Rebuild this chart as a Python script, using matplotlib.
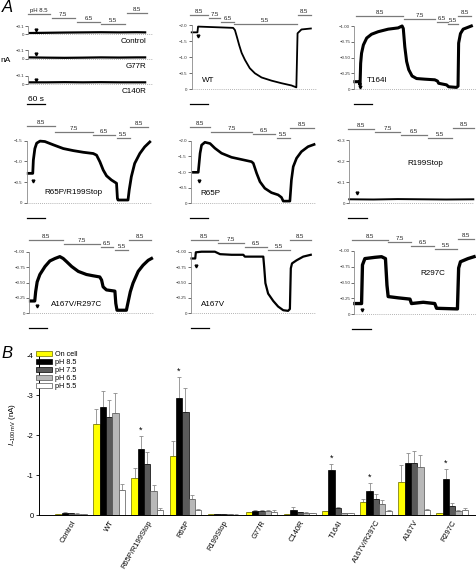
import matplotlib

matplotlib.use("Agg")
import matplotlib.pyplot as plt
import numpy as np

plt.rcParams["font.family"] = ["Liberation Sans", "DejaVu Sans"]
plt.rcParams["mathtext.fontset"] = "custom"
plt.rcParams["mathtext.it"] = "Liberation Sans:italic"
plt.rcParams["mathtext.rm"] = "Liberation Sans"

W, H = 477, 570

# ---------------- panel A: whole-cell currents (time s, current nA) ----------------
ph_steps = ["8.5", "7.5", "6.5", "5.5", "8.5"]

mini_t = [0, 60, 120, 180, 240, 300, 360, 390]
ctrl_i = [-0.012, -0.015, -0.018, -0.02, -0.022, -0.02, -0.022, -0.02]
g77r_i = [-0.015, -0.012, -0.01, -0.012, -0.015, -0.013, -0.015, -0.015]
c140r_i = [-0.02, -0.02, -0.022, -0.02, -0.022, -0.02, -0.02, -0.02]
mini_ph = [(0, 72), (77, 154), (160, 237), (242, 319), (325, 391)]

wt_t = [0, 19, 21, 137, 143, 150, 157, 165, 176, 192, 209, 231, 264, 297, 330, 346, 350, 363,
        394]
wt_i = [-1.78, -1.78, -1.96, -1.92, -1.85, -1.62, -1.38, -1.14, -0.92, -0.66, -0.5, -0.37,
        -0.27, -0.19, -0.12, -0.06, -1.75, -1.87, -1.9]
wt_ph = [(-5, 55), (57, 94), (96, 140), (140, 347), (350, 394)]

t164i_t = [2, 16, 19, 21, 24, 30, 41, 57, 79, 112, 145, 158, 162, 167, 173, 180, 191, 206,
           233, 266, 275, 279, 305, 312, 338, 343, 345, 351, 360, 387]
t164i_i = [-0.12, -0.12, -0.07, -0.41, -0.57, -0.7, -0.81, -0.87, -0.91, -0.95, -0.97, -1.0,
           -0.96, -0.67, -0.44, -0.31, -0.21, -0.17, -0.16, -0.15, -0.13, -0.095, -0.07,
           -0.04, -0.03, -0.05, -0.73, -0.88, -0.95, -1.0]
t164i_ph = [(4, 162), (165, 268), (272, 310), (310, 343), (343, 387)]

r65r199_t = [5, 20, 22, 27, 33, 44, 60, 88, 121, 154, 187, 220, 231, 242, 253, 264, 280, 297,
             300, 302, 335, 339, 346, 357, 374, 390, 407]
r65r199_i = [-0.71, -0.71, -1.03, -1.31, -1.44, -1.49, -1.48, -1.4, -1.31, -1.26, -1.22,
             -1.19, -1.15, -0.99, -0.79, -0.65, -0.55, -0.47, -0.1, -0.065, -0.065, -0.31,
             -0.63, -0.95, -1.19, -1.35, -1.47]
r65r199_ph = [(2, 93), (93, 220), (220, 291), (297, 341), (343, 401)]

r65p_t = [8, 24, 30, 35, 46, 63, 79, 101, 134, 167, 200, 206, 217, 228, 244, 266, 288, 299,
          305, 327, 332, 338, 349, 365, 387, 407]
r65p_i = [-0.99, -0.99, -1.6, -1.86, -1.95, -1.91, -1.76, -1.6, -1.47, -1.4, -1.33, -1.28,
          -0.96, -0.69, -0.48, -0.34, -0.27, -0.19, -0.07, -0.07, -0.74, -1.17, -1.44,
          -1.65, -1.81, -1.88]
r65p_ph = [(-3, 63), (66, 202), (206, 277), (283, 327), (327, 407)]

r199_t = [0, 80, 160, 240, 320, 410]
r199_i = [-0.019, -0.018, -0.02, -0.019, -0.018, -0.019]
r199_ph = [(-3, 82), (85, 167), (170, 258), (261, 341), (343, 412)]

a167r297_t = [4, 18, 21, 26, 35, 52, 68, 85, 101, 112, 123, 140, 162, 189, 210, 233, 239, 244,
              255, 283, 286, 290, 321, 327, 334, 343, 360, 376, 393, 404]
a167r297_i = [-0.2, -0.2, -0.35, -0.51, -0.63, -0.76, -0.85, -0.89, -0.92, -0.89, -0.84, -0.76,
              -0.68, -0.63, -0.61, -0.59, -0.54, -0.43, -0.38, -0.36, -0.16, -0.05, -0.05,
              -0.19, -0.35, -0.49, -0.68, -0.78, -0.86, -0.89]
a167r297_ph = [(0, 112), (114, 233), (236, 277), (283, 327), (329, 404)]

a167v_t = [2, 14, 16, 35, 79, 96, 134, 173, 178, 239, 242, 246, 255, 272, 288, 305, 321, 327,
           330, 334, 349, 371, 396]
a167v_i = [-0.89, -0.89, -0.99, -1.0, -1.0, -0.96, -0.95, -0.95, -0.92, -0.92, -0.75, -0.49,
           -0.32, -0.2, -0.11, -0.05, -0.04, -0.07, -0.73, -0.81, -0.86, -0.92, -0.95]
a167v_ph = [(0, 88), (90, 176), (178, 250), (253, 327), (327, 396)]

r297c_t = [2, 24, 27, 35, 68, 90, 103, 108, 112, 145, 184, 189, 228, 266, 272, 341, 345, 351,
           376, 396]
r297c_i = [-0.17, -0.17, -0.78, -0.88, -0.9, -0.91, -0.88, -0.46, -0.28, -0.26, -0.24, -0.17,
           -0.19, -0.17, -0.095, -0.085, -0.73, -0.83, -0.88, -0.91]
r297c_ph = [(-6, 110), (112, 187), (189, 264), (266, 341), (343, 396)]

# ---------------- panel B: mean current at -100 mV (nA) ----------------
groups = ["Control", "WT", "R65P/R199Stop", "R65P", "R199Stop", "G77R", "C140R", "T164I",
          "A167V/R297C", "A167V", "R297C"]
series = ["On cell", "pH 8.5", "pH 7.5", "pH 6.5", "pH 5.5"]
on_cell = [-0.02, -2.27, -0.92, -1.47, -0.02, -0.07, -0.02, -0.09, -0.33, -0.83, -0.05]
ph85 = [-0.05, -2.71, -1.66, -2.92, -0.02, -0.10, -0.13, -1.12, -0.60, -1.29, -0.89]
ph75 = [-0.05, -2.45, -1.28, -2.57, -0.02, -0.10, -0.07, -0.18, -0.40, -1.30, -0.22]
ph65 = [-0.03, -2.54, -0.60, -0.41, -0.02, -0.10, -0.05, -0.05, -0.28, -1.20, -0.11]
ph55 = [-0.02, -0.63, -0.13, -0.12, -0.01, -0.08, -0.04, -0.05, -0.09, -0.13, -0.12]
on_cell_err = [0.01, 0.38, 0.25, 0.37, 0.005, 0.01, 0.005, 0.01, 0.07, 0.42, 0.01]
ph85_err = [0.02, 0.39, 0.32, 0.52, 0.005, 0.02, 0.06, 0.16, 0.20, 0.27, 0.25]
ph75_err = [0.01, 0.43, 0.29, 0.60, 0.005, 0.03, 0.01, 0.01, 0.12, 0.29, 0.07]
ph65_err = [0.01, 0.50, 0.14, 0.08, 0.005, 0.02, 0.03, 0.005, 0.09, 0.30, 0.01]
ph55_err = [0.01, 0.14, 0.04, 0.02, 0.005, 0.04, 0.01, 0.005, 0.04, 0.01, 0.05]
starred = ["R65P/R199Stop", "R65P", "T164I", "A167V/R297C", "R297C"]

fig = plt.figure(figsize=(W / 100, H / 100), dpi=100)

PH_GREY = "#7a7a7a"


def trace_axes(left, top_px, zero_px, ymax, ticks, labels):
    ax = fig.add_axes([left / W, 1 - zero_px / H, 124 / W, (zero_px - top_px) / H])
    ax.set_xlim(0, 410)
    ax.set_ylim(0, ymax)
    for s in ("top", "right", "bottom"):
        ax.spines[s].set_visible(False)
    ax.spines["left"].set_linestyle((0, (1, 1)))
    ax.spines["left"].set_color("#8a8a8a")
    ax.spines["left"].set_linewidth(0.6)
    ax.set_xticks([])
    ax.set_yticks(ticks, labels)
    ax.tick_params(axis="y", length=2, width=0.5, pad=1, labelsize=3.2, color="#333333",
                   labelcolor="#333333")
    ax.axhline(0, color="#9a9a9a", lw=0.6, ls=(0, (1, 1.5)), clip_on=False)
    ax.patch.set_visible(False)
    return ax


def px_frac(ax, px):
    return px / (ax.get_position().height * H)


def draw_ph(ax, edges, offs=(12, 8, 5, 2, 12), first="8.5"):
    tr = ax.get_xaxis_transform()
    for k, ((a, b), off) in enumerate(zip(edges, offs)):
        y = 1 + px_frac(ax, off)
        ax.plot([a, b], [y, y], transform=tr, color=PH_GREY, lw=0.9, clip_on=False)
        lab = first if k == 0 else ph_steps[k]
        ax.text((a + b) / 2, y + px_frac(ax, 1.0), lab, transform=tr, ha="center",
                va="bottom", fontsize=4.3, color="#222222", clip_on=False)


def draw_scale(ax, t0, off=15):
    tr = ax.get_xaxis_transform()
    y = -px_frac(ax, off)
    ax.plot([t0, t0 + 60], [y, y], transform=tr, color="black", lw=0.9, clip_on=False)
    return y


TICK2 = ([0, -0.5, -1.0, -1.5, -2.0], ["0", "−0.5", "−1.0", "−1.5", "−2.0"])
TICK1 = ([0, -0.25, -0.5, -0.75, -1.0], ["0", "−0.25", "−0.50", "−0.75", "−1.00"])
TICK15 = ([0, -0.5, -1.0, -1.5], ["0", "−0.5", "−1.0", "−1.5"])
TICK03 = ([0, -0.1, -0.2, -0.3], ["0", "−0.1", "−0.2", "−0.3"])
TICKMINI = ([0, -0.1], ["0", "−0.1"])

# row 1, column 1: three flat traces
minis = [("Control", ctrl_i, 26, 34), ("G77R", g77r_i, 50, 58.7), ("C140R", c140r_i, 75.7, 84)]
for k, (name, cur, top, zero) in enumerate(minis):
    ax = trace_axes(28.3, top, zero, -0.1, *TICKMINI)
    ax.plot(mini_t, cur, color="black", lw=1.6, solid_capstyle="butt")
    ax.plot([24], [-0.05], marker="v", ms=2, color="black", ls="none", clip_on=False)
    ax.text(392, 0.088, name, ha="right", va="center", fontsize=5.8)
    if k == 0:
        draw_ph(ax, mini_ph, offs=(12, 7.7, 4.3, 2, 12.7), first="pH 8.5")
    if k == 2:
        y = draw_scale(ax, -4, off=20.5)
        ax.text(26, y + px_frac(ax, 1.5), "60 s", transform=ax.get_xaxis_transform(),
                ha="center", va="bottom", fontsize=6, clip_on=False)
fig.text(0 / W, 1 - 60 / H, "nA", ha="left", va="center", fontsize=6)

panels = [
    # name, t, i, ph, left, top px, zero px, ymax, ticks, lw, label pos, ha, ph offsets
    ("WT", wt_t, wt_i, wt_ph, 191.7, 25.3, 89.3, -2.0, TICK2, 1.3, (33, -0.26), "left",
     (10, 7, 3.6, 1.3, 10)),
    ("T164I", t164i_t, t164i_i, t164i_ph, 354.3, 26, 89.3, -1.0, TICK1, 2.2, (40, -0.14),
     "left", (10.3, 7, 4.3, 2, 10.3)),
    ("R65P/R199Stop", r65r199_t, r65r199_i, r65r199_ph, 26.7, 140.7, 202.7, -1.5, TICK15, 2.0,
     (156, -0.235), "center", (14.7, 9, 5.7, 2.4, 14)),
    ("R65P", r65p_t, r65p_i, r65p_ph, 191, 140.7, 203.3, -2.0, TICK2, 1.9, (32, -0.3), "left",
     (13.3, 9, 6.3, 2.3, 12.3)),
    ("R199Stop", r199_t, r199_i, r199_ph, 349.3, 140, 203.3, -0.3, TICK03, 1.4, (250, -0.19),
     "center", (11, 8, 5, 2.3, 11.7)),
    ("A167V/R297C", a167r297_t, a167r297_i, a167r297_ph, 29.3, 251.7, 313.3, -1.0, TICK1, 2.3,
     (158, -0.135), "center", (11.7, 7.7, 4.3, 1.7, 11.7)),
    ("A167V", a167v_t, a167v_i, a167v_ph, 191, 251.7, 313.3, -1.0, TICK1, 1.6, (32, -0.135),
     "left", (11.7, 8.3, 5, 1.7, 11.7)),
    ("R297C", r297c_t, r297c_i, r297c_ph, 354.3, 251, 314.3, -1.0, TICK1, 2.4, (260, -0.65),
     "center", (11, 8.7, 5.3, 2, 12)),
]
markers = {"WT": (20, -1.65), "T164I": (19, -0.03), "R65P/R199Stop": (22, -0.53),
           "R65P": (27, -0.72), "R199Stop": (24, -0.05), "A167V/R297C": (24, -0.12),
           "A167V": (15, -0.76), "R297C": (26, -0.07)}

for name, t, cur, ph, left, top, zero, ymax, ticks, lw, pos, ha, offs in panels:
    ax = trace_axes(left, top, zero, ymax, *ticks)
    ax.plot(t, cur, color="black", lw=lw, solid_joinstyle="round", clip_on=False)
    mx, my = markers[name]
    ax.plot([mx], [my], marker="v", ms=2, color="black", ls="none", clip_on=False)
    ax.text(pos[0], pos[1], name, ha=ha, va="center", fontsize=5.8)
    draw_ph(ax, ph, offs=offs)
    draw_scale(ax, ph[0][0] if ph[0][0] < 0 else 0)

fig.text(2 / W, 1 - 0 / H, "A", ha="left", va="top", fontsize=12, style="italic")

# ---------------- panel B ----------------
axb = fig.add_axes([39 / W, 1 - 515 / H, 436 / W, 160 / H])
x = np.arange(len(groups))
bw = 0.166
colors = ["#ffff00", "#000000", "#5a5a5a", "#b8b8b8", "#ffffff"]
edges = ["#6b6b00", "black", "black", "#555555", "#555555"]
means = [on_cell, ph85, ph75, ph65, ph55]
errs = [on_cell_err, ph85_err, ph75_err, ph65_err, ph55_err]
for k in range(5):
    xs = x + (k - 2) * bw
    axb.bar(xs, means[k], width=bw, color=colors[k], edgecolor=edges[k], linewidth=0.5,
            label=series[k], zorder=2)
    # one-sided SEM, drawn away from zero (currents are negative)
    axb.errorbar(xs, means[k], yerr=[errs[k], np.zeros(len(groups))], fmt="none",
                 ecolor="#8c8c8c", elinewidth=0.6, capsize=1.3, capthick=0.6, zorder=1)
for g in starred:
    i = groups.index(g)
    top = ph85[i] - ph85_err[i]
    axb.text(i - bw, top - 0.03, "*", ha="center", va="bottom", fontsize=6.5)

axb.set_xlim(-0.84, 10.6)
axb.set_ylim(0, -4)
axb.set_yticks([0, -1, -2, -3, -4], ["0", "-1", "-2", "-3", "-4"])
axb.set_xticks(x, groups, rotation=60, ha="right", va="top", rotation_mode="anchor")
axb.tick_params(axis="y", length=2.5, width=0.6, labelsize=5.5, pad=1.5)
axb.tick_params(axis="x", length=0, labelsize=5.4, pad=3)
for s in ("top", "right"):
    axb.spines[s].set_visible(False)
for s in ("left", "bottom"):
    axb.spines[s].set_linewidth(0.7)
axb.legend(loc="upper left", bbox_to_anchor=(36 / W, 1 - 351 / H),
           bbox_transform=fig.transFigure, frameon=False, fontsize=5.2, handlelength=2.2,
           handleheight=0.7, handletextpad=0.4, labelspacing=0.12, borderpad=0,
           borderaxespad=0)
fig.text(12 / W, 1 - 424 / H, r"$I_{-100\,\mathrm{mV}}$ (nA)", rotation=90, ha="center",
         va="center", fontsize=5.8)
fig.text(1 / W, 1 - 346 / H, "B", ha="left", va="top", fontsize=12, style="italic")

fig.savefig("out.png", dpi=100)
